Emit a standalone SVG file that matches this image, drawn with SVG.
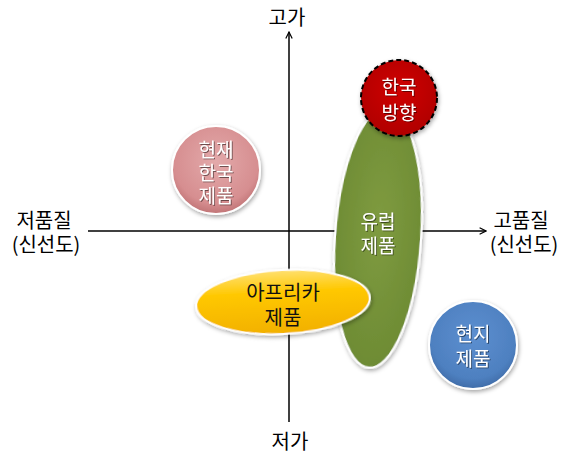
<svg xmlns="http://www.w3.org/2000/svg" width="564" height="458" viewBox="0 0 564 458">
<defs>
<marker id="arr" viewBox="0 0 10 10" refX="9" refY="5" markerWidth="8" markerHeight="8" orient="auto" markerUnits="userSpaceOnUse">
<path d="M1,1 L9,5 L1,9" fill="none" stroke="#000" stroke-width="1.5"/>
</marker>
<radialGradient id="gPink" cx="50%" cy="40%" r="60%"><stop offset="0" stop-color="#E3A9AA"/><stop offset="0.8" stop-color="#D68E90"/><stop offset="1" stop-color="#C07476"/></radialGradient>
<radialGradient id="gRed" cx="50%" cy="40%" r="60%"><stop offset="0" stop-color="#D00000"/><stop offset="1" stop-color="#B00000"/></radialGradient>
<radialGradient id="gGreen" cx="50%" cy="45%" r="60%"><stop offset="0" stop-color="#7F9B40"/><stop offset="1" stop-color="#6C8A33"/></radialGradient>
<radialGradient id="gBlue" cx="50%" cy="40%" r="60%"><stop offset="0" stop-color="#5C8FD0"/><stop offset="0.8" stop-color="#4E80C0"/><stop offset="1" stop-color="#3F6CA8"/></radialGradient>
<linearGradient id="gYellow" x1="0" y1="0" x2="0" y2="1"><stop offset="0" stop-color="#FFE070"/><stop offset="0.35" stop-color="#FFC800"/><stop offset="1" stop-color="#F2B000"/></linearGradient>
<filter id="sh" x="-20%" y="-20%" width="140%" height="140%"><feDropShadow dx="1" dy="2" stdDeviation="2" flood-color="#000" flood-opacity="0.35"/></filter>
<filter id="tsh" x="-10%" y="-10%" width="120%" height="130%"><feDropShadow dx="1" dy="1" stdDeviation="0.6" flood-color="#000" flood-opacity="0.5"/></filter>
</defs>
<style>
text{font-family:"Noto Sans CJK KR","Noto Sans",sans-serif;font-size:19px;text-anchor:middle}
.ax{fill:#000;font-size:20px}
.w{fill:#fff;filter:url(#tsh)}
.d{fill:#111;font-size:20px}
.edge{stroke:#fff;stroke-width:2}
</style>
<g id="connectors" stroke="#000" stroke-width="1.5" fill="none">
<line x1="88" y1="231" x2="486" y2="231" marker-end="url(#arr)"/>
<line x1="289" y1="422" x2="289" y2="32" marker-end="url(#arr)"/>
</g>
<g id="labels">
<text class="ax" x="287" y="25">고가</text>
<text class="ax" x="290" y="449">저가</text>
<text class="ax" x="44" y="228">저품질</text>
<text class="ax" x="46" y="252">(신선도)</text>
<text class="ax" x="521" y="228">고품질</text>
<text class="ax" x="524" y="252">(신선도)</text>
</g>
<g id="node-current-korea">
<circle cx="216" cy="170" r="44" fill="url(#gPink)" class="edge" filter="url(#sh)"/>
<text class="w" x="216" y="157">현재</text>
<text class="w" x="216" y="180">한국</text>
<text class="w" x="216" y="203">제품</text>
</g>
<g id="node-europe">
<ellipse cx="0" cy="0" rx="43" ry="130" transform="translate(378,238) rotate(4)" fill="url(#gGreen)" class="edge" filter="url(#sh)"/>
<text class="w" x="378" y="229">유럽</text>
<text class="w" x="378" y="253">제품</text>
</g>
<g id="node-korea-direction">
<circle cx="399" cy="98" r="38" fill="url(#gRed)" stroke="#000" stroke-width="2" stroke-dasharray="5,3" filter="url(#sh)"/>
<text class="w" x="399" y="94">한국</text>
<text class="w" x="399" y="120">방향</text>
</g>
<g id="node-africa">
<ellipse cx="0" cy="0" rx="87" ry="32" transform="translate(283,302) rotate(-3)" fill="url(#gYellow)" class="edge" filter="url(#sh)"/>
<text class="d" x="283" y="300">아프리카</text>
<text class="d" x="283" y="325">제품</text>
</g>
<g id="node-local">
<circle cx="473" cy="345" r="44" fill="url(#gBlue)" class="edge" filter="url(#sh)"/>
<text class="w" x="473" y="341">현지</text>
<text class="w" x="473" y="366">제품</text>
</g>
</svg>
